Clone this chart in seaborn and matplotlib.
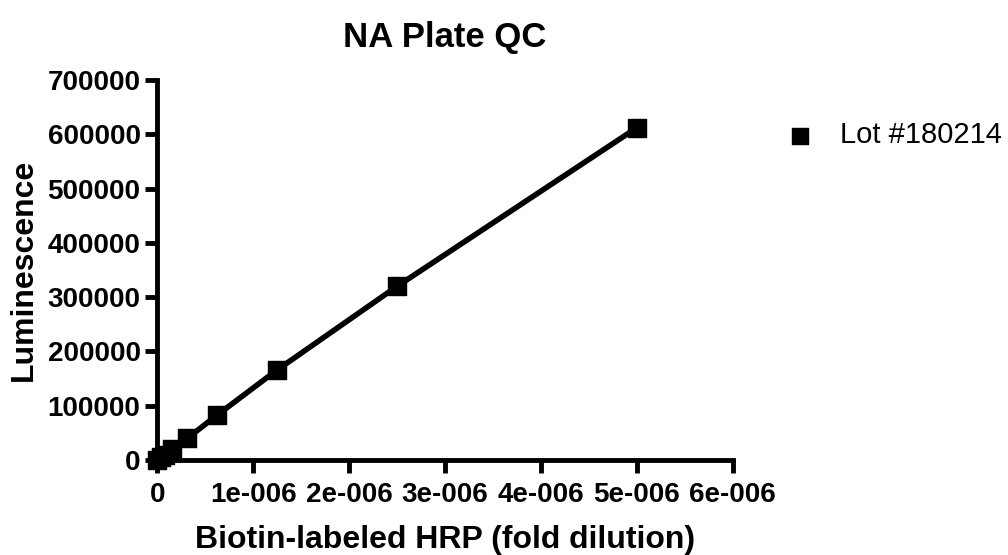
import numpy as np
import pandas as pd
import seaborn as sns
import matplotlib.pyplot as plt
from matplotlib.ticker import FuncFormatter

dilution = [5e-6, 2.5e-6, 1.25e-6, 6.25e-7, 3.125e-7, 1.5625e-7, 7.8125e-8, 3.90625e-8, 0.0]
lum = [612000, 320000, 166000, 83000, 40000, 20000, 10000, 5000, 500]
series = 'Lot #180214'

df = pd.DataFrame({'x': dilution, 'y': lum})

sns.set_style('ticks', {'axes.edgecolor': 'black', 'text.color': 'black',
                        'xtick.color': 'black', 'ytick.color': 'black',
                        'axes.labelcolor': 'black'})
plt.rcParams['font.family'] = ['Liberation Sans', 'DejaVu Sans']

fig = plt.figure(figsize=(10.08, 5.55), dpi=100)
ax = fig.add_axes([0.156, 0.171, 0.571, 0.685])

sns.lineplot(data=df, x='x', y='y', color='black', linewidth=4, legend=False, ax=ax)
sns.scatterplot(data=df, x='x', y='y', marker='s', s=160, color='black',
                edgecolor='black', label=series, ax=ax, zorder=3, clip_on=False)

ax.set_xlim(0, 6e-6)
ax.set_ylim(0, 700000)
ax.set_xticks(np.arange(0, 7e-6, 1e-6))
ax.set_yticks(np.arange(0, 800000, 100000))

def xfmt(v, pos):
    if abs(v) < 1e-12:
        return '0'
    m = round(v / 1e-6)
    return f'{m}e-006'

ax.xaxis.set_major_formatter(FuncFormatter(xfmt))
ax.yaxis.set_major_formatter(FuncFormatter(lambda v, p: f'{int(v)}'))

for s in ['top', 'right']:
    ax.spines[s].set_visible(False)
for s in ['left', 'bottom']:
    ax.spines[s].set_linewidth(3.5)
ax.tick_params(width=3.5, length=9, labelsize=20, pad=3, colors='black')
ax.tick_params(axis='x', pad=7)
for lab in ax.get_xticklabels() + ax.get_yticklabels():
    lab.set_fontweight('bold')

ax.set_xlabel('Biotin-labeled HRP (fold dilution)', fontsize=23, fontweight='bold', labelpad=12)
ax.set_ylabel('Luminescence', fontsize=23, fontweight='bold', labelpad=6)
ax.set_title('NA Plate QC', fontsize=25, fontweight='bold', pad=24)

ax.legend(loc='upper left', bbox_to_anchor=(1.046, 0.96), frameon=False,
          fontsize=21, handlelength=1.0, handletextpad=0.88, markerscale=0.9)

fig.savefig('out.png', dpi=100)
